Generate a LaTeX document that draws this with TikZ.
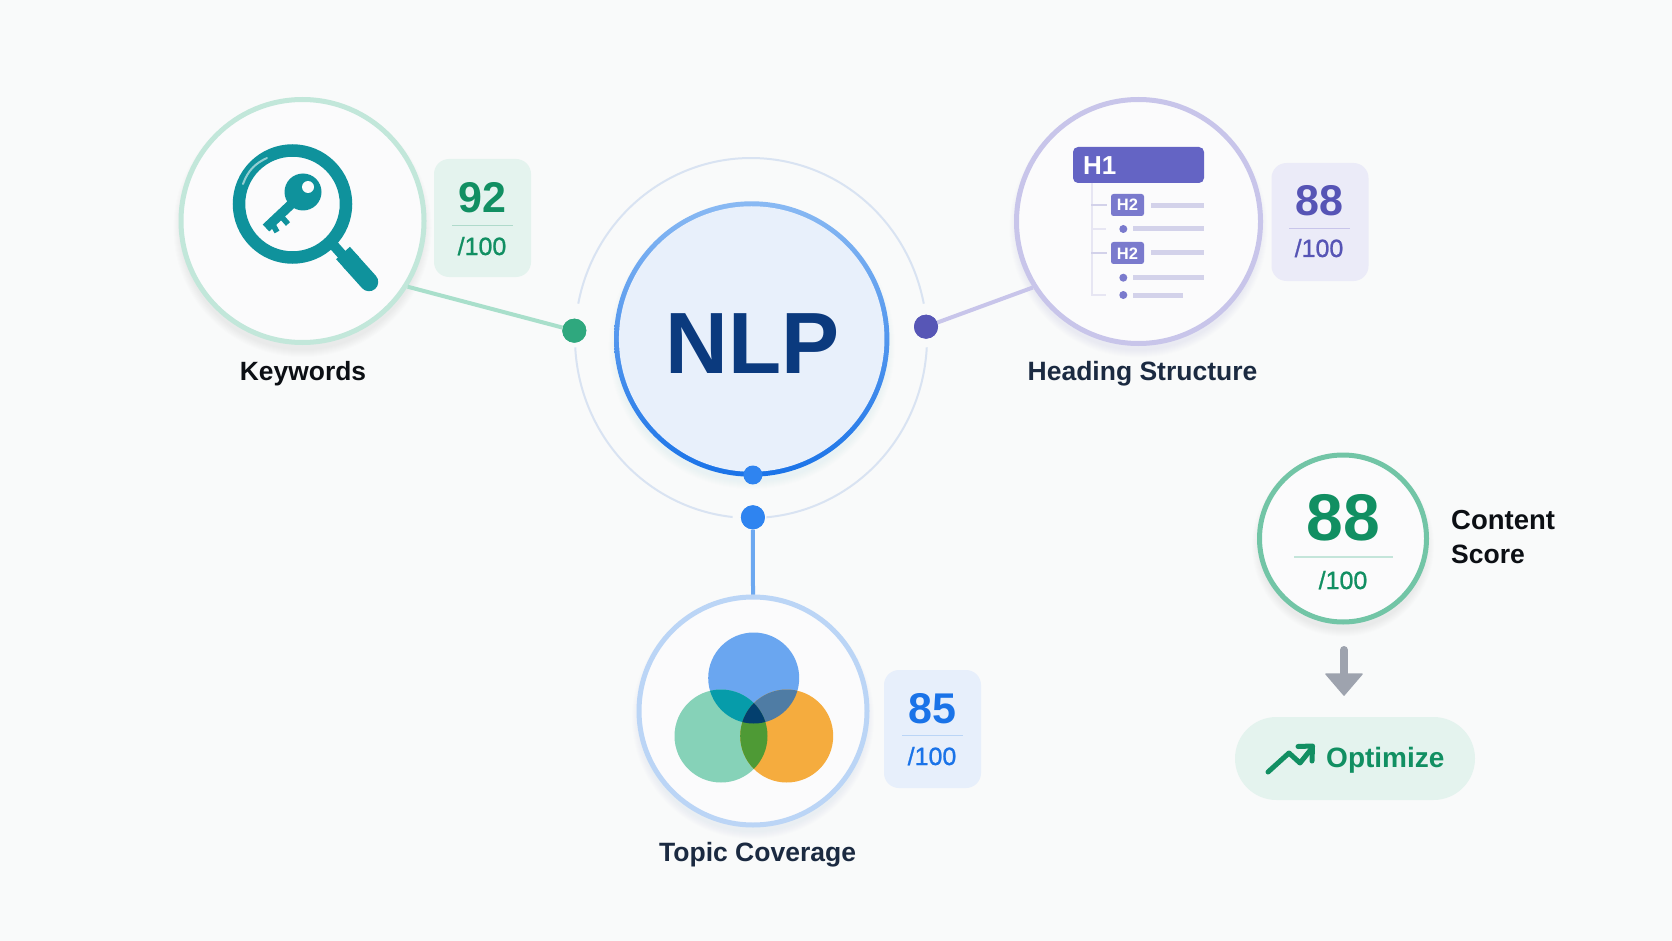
\documentclass[tikz,border=0pt]{standalone}
\usepackage{fontspec}
\setmainfont{Liberation Sans}
\newfontfamily\medfont[FakeBold=1]{Liberation Sans}
\newcommand\fsz[1]{\fontsize{#1}{#1}\selectfont}
\definecolor{bgc}{HTML}{F9FAFA}
\definecolor{cardw}{HTML}{FBFBFC}
\definecolor{grn}{HTML}{118F62}
\definecolor{grnring}{HTML}{C2E7DA}
\definecolor{grnbadge}{HTML}{E4F3EE}
\definecolor{grnline}{HTML}{A9DFCB}
\definecolor{grndot}{HTML}{2FA87E}
\definecolor{teal}{HTML}{0F929C}
\definecolor{pur}{HTML}{5654B5}
\definecolor{purbar}{HTML}{6464C4}
\definecolor{purbox}{HTML}{7A7ACD}
\definecolor{purring}{HTML}{C8C5EA}
\definecolor{purbadge}{HTML}{EBEBF8}
\definecolor{purlite}{HTML}{D3D2EA}
\definecolor{blu}{HTML}{1A73E8}
\definecolor{bluring}{HTML}{BBD5F6}
\definecolor{blubadge}{HTML}{E7EFFB}
\definecolor{bludot}{HTML}{2F84F0}
\definecolor{bluline}{HTML}{6CA8F0}
\definecolor{nlpfill}{HTML}{E8F0FB}
\definecolor{nlptxt}{HTML}{0B3A7E}
\definecolor{orbit}{HTML}{D9E3F2}
\definecolor{scorering}{HTML}{72C5A6}
\definecolor{inkdark}{HTML}{0C0F14}
\definecolor{inknavy}{HTML}{1B2A41}
\definecolor{arrowgrey}{HTML}{9EA3AE}
\definecolor{vblue}{HTML}{6AA6F0}
\definecolor{vgreen}{HTML}{86D2B8}
\definecolor{vorange}{HTML}{F5AC3E}
\definecolor{vbg}{HTML}{069CAA}
\definecolor{vbo}{HTML}{4F7CA4}
\definecolor{vgo}{HTML}{4E9A35}
\definecolor{vall}{HTML}{033F6E}
\tikzset{
  ringnode/.style={circle,draw,line width=5pt,fill=cardw,inner sep=0pt},
  badgebox/.style={rectangle,rounded corners=15pt,inner sep=0pt,minimum width=97pt,minimum height=118pt},
  numtxt/.style={anchor=base,inner sep=0pt,font=\bfseries\fsz{43}},
  subtxt/.style={anchor=base,inner sep=0pt,font=\medfont\fsz{25}},
  labeltxt/.style={anchor=base,inner sep=0pt,font=\bfseries\fsz{26.4}},
  dotnode/.style={circle,inner sep=0pt,minimum size=24pt},
  h2box/.style={rectangle,rounded corners=2.5pt,fill=purbox,inner sep=0pt,minimum width=33pt,minimum height=22pt},
  h2txt/.style={anchor=base,inner sep=0pt,text=white,font=\bfseries\fsz{16.5}},
  rowline/.style={purlite,line width=5pt},
  treeline/.style={draw=purlite!55,line width=1.4pt},
  connector/.style={line width=4pt}
}
\newcommand\softshadow[4]{%
  \foreach \i in {0,...,7}{%
    \fill[#4,opacity=0.010] (#1,#2+7) circle[radius=#3pt+\i pt];
  }%
}
\begin{document}
\begin{tikzpicture}[x=1pt,y=-1pt]
\useasboundingbox (0,0) rectangle (1672,941);
\fill[bgc] (0,0) rectangle (1672,941);

% orbit ring
\foreach \a/\b in {11/169,-85/-3,183/264}{
  \draw[orbit,line width=2pt] plot[domain=\a:\b,samples=70,smooth] ({751+176*cos(\x)},{338-180*sin(\x)});
}

% shadows
\softshadow{302.5}{221}{122}{black!55}
\softshadow{1138.5}{221.5}{122}{pur!70}
\softshadow{753}{711}{114}{blu!70}
\softshadow{1343}{538.5}{84}{black!50}
\softshadow{751.7}{339}{136}{blu!50}

% main circles
\node[ringnode,draw=grnring,minimum size=243pt] (kw) at (302.5,221) {};
\node[ringnode,draw=purring,minimum size=244pt] (hs) at (1138.5,221.5) {};
\node[ringnode,draw=bluring,minimum size=228pt] (tc) at (753,711) {};
\node[ringnode,draw=scorering,minimum size=167pt] (sc) at (1343,538.5) {};

% NLP hub
\node[circle,inner sep=0pt,minimum size=275.4pt,top color=bluline!80,bottom color=blu] (nlpo) at (751.7,339) {};
\node[circle,inner sep=0pt,minimum size=265.5pt,fill=nlpfill] (nlp) at (751.7,339) {};
\node[anchor=base,inner sep=0pt,font=\bfseries\fsz{87},text=nlptxt] (nlptext) at (752.7,373) {NLP};

% dots
\node[dotnode,fill=grndot] (gd) at (574.3,330.7) {};
\node[dotnode,fill=pur!90!purbar] (pd) at (926,326.7) {};
\node[dotnode,fill=bludot] (bd) at (752.9,517.3) {};
\node[dotnode,fill=bludot,minimum size=19pt] (bs) at (752.9,475) {};

% connectors
\draw[connector,grnline] (kw.-32) -- (gd);
\draw[connector,purring] (hs.212.7) -- (pd);
\draw[connector,bluline] (bd) -- (tc.north);
\node[dotnode,fill=grndot] at (gd) {};
\node[dotnode,fill=pur!90!purbar] at (pd) {};
\node[dotnode,fill=bludot] at (bd) {};

% magnifier
\draw[teal,line width=10pt] (329,240) -- (345,258);
\draw[teal,line width=18.5pt,line cap=round] (351,262) -- (369,282);
\draw[teal,line width=18.5pt] (343,253) -- (352,263);
\fill[cardw] (292.5,204) circle[radius=50pt];
\draw[teal,line width=12.5pt] (292.5,204) circle[radius=53.5pt];
\draw[white!55!teal,line width=2pt,line cap=round] (243,184) .. controls (248,170) and (256,163) .. (267,158);
% key
\draw[teal,line width=9.5pt] (300,196) -- (266,228);
\draw[teal,line width=5.5pt] (271.5,222) -- (277,232);
\draw[teal,line width=5.5pt] (280,215) -- (288,224);
\fill[teal] (303,192) circle[radius=18.5pt];
\fill[cardw] (308,187) circle[radius=6pt];

% Keywords badge and label
\node[badgebox,fill=grnbadge] (b1) at (482.5,218) {};
\node[numtxt,text=grn] (n1) at (482,213) {92};
\draw[grn!25!grnbadge,line width=1.5pt] (452,225.5) -- (513,225.5);
\node[subtxt,text=grn] (s1) at (482,255) {/100};
\node[labeltxt,text=inkdark] (l1) at (303,380) {Keywords};

% Heading structure icon
\draw[treeline] (1092,183) -- (1092,295) -- (1106,295);
\draw[draw=purlite,line width=1.6pt] (1091,205) -- (1107,205);
\draw[treeline] (1092,229) -- (1106,229);
\draw[draw=purlite,line width=1.6pt] (1091,253) -- (1107,253);
\node[rectangle,rounded corners=5pt,fill=purbar,inner sep=0pt,minimum width=131pt,minimum height=36pt] (h1) at (1138.5,165) {};
\node[anchor=base west,inner sep=0pt,text=white,font=\bfseries\fsz{26}] (h1t) at (1083,175) {H1};
\node[h2box] (h2a) at (1127.5,205) {};
\node[h2txt] (h2at) at (1127.5,211) {H2};
\node[h2box] (h2b) at (1127.5,253) {};
\node[h2txt] (h2bt) at (1127.5,259.5) {H2};
\draw[rowline] (1151,205.3) -- (1204,205.3);
\draw[rowline] (1133,229) -- (1204,229);
\draw[rowline] (1151,253) -- (1204,253);
\draw[rowline] (1133,277.7) -- (1204,277.7);
\draw[rowline] (1133,295) -- (1183,295);
\fill[purbox] (1123.3,229) circle[radius=4pt];
\fill[purbox] (1123.3,277.7) circle[radius=4pt];
\fill[purbox] (1123.3,295) circle[radius=4pt];

% Heading badge and label
\node[badgebox,fill=purbadge] (b2) at (1320,222) {};
\node[numtxt,text=pur] (n2) at (1319,216) {88};
\draw[purring,line width=1.5pt] (1289,228.5) -- (1350,228.5);
\node[subtxt,text=pur] (s2) at (1319,257) {/100};
\node[labeltxt,text=inknavy,font=\bfseries\fsz{26.5}] (l2) at (1142.5,380) {Heading Structure};

% Venn
\coordinate (vb) at (753.7,678);
\coordinate (vg) at (721,736);
\coordinate (vo) at (786.7,736);
\fill[vblue] (vb) circle[radius=45.5pt];
\fill[vgreen] (vg) circle[radius=46.5pt];
\fill[vorange] (vo) circle[radius=46.5pt];
\begin{scope}\clip (vb) circle[radius=45.5pt];
  \fill[vbg] (vg) circle[radius=46.5pt];
  \fill[vbo] (vo) circle[radius=46.5pt];
\end{scope}
\begin{scope}\clip (vg) circle[radius=46.5pt];
  \fill[vgo] (vo) circle[radius=46.5pt];
  \clip (vb) circle[radius=45.5pt];
  \fill[vall] (vo) circle[radius=46.5pt];
\end{scope}

% Topic badge and label
\node[badgebox,fill=blubadge] (b3) at (932.5,729) {};
\node[numtxt,text=blu] (n3) at (932,723) {85};
\draw[bluring,line width=1.5pt] (902,735.5) -- (963,735.5);
\node[subtxt,text=blu] (s3) at (932,765) {/100};
\node[labeltxt,text=inknavy,font=\bfseries\fsz{26.5}] (l3) at (757.6,861) {Topic Coverage};

% Score
\node[numtxt,text=grn,font=\bfseries\fsz{66}] (n4) at (1343,540) {88};
\draw[scorering!40!cardw,line width=1.5pt] (1294,557) -- (1393,557);
\node[subtxt,text=grn] (s4) at (1343,589) {/100};
\node[anchor=base west,inner sep=0pt,text=inkdark,font=\bfseries\fsz{27.5}] (l4a) at (1451,529) {Content};
\node[anchor=base west,inner sep=0pt,text=inkdark,font=\bfseries\fsz{26.5}] (l4b) at (1451,563) {Score};

% grey arrow
\coordinate (arrtop) at (1344,650);
\coordinate (arrbase) at (1344,675);
\draw[arrowgrey,line width=8pt,line cap=round] (arrtop) -- (arrbase);
\fill[arrowgrey,draw=arrowgrey,line width=1.5pt,line join=round] (1326,674) -- (1362,674) -- (1344,695) -- cycle;

% Optimize
\node[rectangle,rounded corners=41.5pt,fill=grnbadge,inner sep=0pt,minimum width=240pt,minimum height=83pt] (op) at (1355,758.5) {};
\draw[grn,line width=5pt,line cap=round,line join=round] (1268,772) -- (1289,753) -- (1300,763) -- (1312,748);
\draw[grn,line width=5pt,line cap=round,line join=round] (1298,746.5) -- (1312.5,746) -- (1312,761);
\node[anchor=base west,inner sep=0pt,text=grn,font=\bfseries\fsz{28}] (opt) at (1326,767) {Optimize};
\end{tikzpicture}
\end{document}
